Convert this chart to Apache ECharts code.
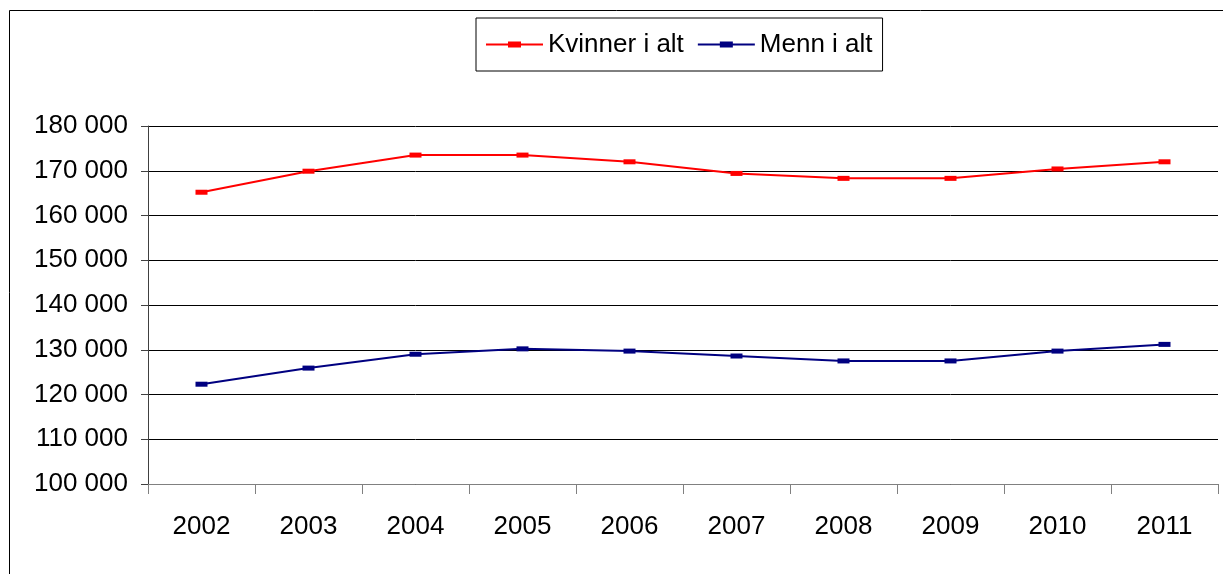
<!DOCTYPE html>
<html>
<head>
<meta charset="UTF-8">
<title>Kvinner og menn i alt</title>
<script type="text/javascript" src="https://cdn.jsdelivr.net/npm/echarts@6/dist/echarts.min.js"></script>
<style>
    *{margin:0;padding:0}
    html,body{width:100%;height:100%;background:#fff}
    #main{width:1223px;height:574px}
</style>
</head>
<body>
<div id="main"></div>
<script type="text/javascript">
    // years and series values
    var years = ['2002','2003','2004','2005','2006','2007','2008','2009','2010','2011'];
    var kvinner = [165200, 169900, 173500, 173500, 172000, 169400, 168300, 168300, 170400, 172000];
    var menn = [122300, 125900, 129000, 130200, 129700, 128600, 127500, 127500, 129700, 131200];

    var font = '"Liberation Sans", Arial, sans-serif';
    // legend icon: line with a small flat rect in the middle
    var legendIcon = 'path://M0,2h57v2h-57z M22,0h13v6h-13z';

    // norsk tusenskille: 180 000
    function fmt(v) {
        return String(v).replace(/\B(?=(\d{3})+(?!\d))/g, ' ');
    }

    var option = {
        animation: false,
        backgroundColor: '#fff',
        graphic: [{
            type: 'rect',
            shape: {x: 9.5, y: 10.5, width: 1400, height: 800},
            style: {fill: 'none', stroke: '#000', lineWidth: 1}
        }],
        legend: {
            left: 476,
            top: 18,
            padding: [13, 10, 13, 10],
            itemGap: 14,
            itemWidth: 57,
            itemHeight: 6,
            borderColor: '#000',
            borderWidth: 1,
            textStyle: {fontFamily: font, fontSize: 26, color: '#000', lineHeight: 27},
            data: [
                {name: 'Kvinner i alt', icon: legendIcon},
                {name: 'Menn i alt', icon: legendIcon}
            ]
        },
        grid: {left: 148, right: 5, top: 126, bottom: 90},
        xAxis: {
            type: 'category',
            data: years,
            boundaryGap: true,
            axisLine: {lineStyle: {color: '#808080', width: 1}},
            axisTick: {show: true, length: 10, lineStyle: {color: '#808080'}},
            axisLabel: {fontFamily: font, fontSize: 26, color: '#000', margin: 30}
        },
        yAxis: {
            type: 'value',
            min: 100000,
            max: 180000,
            interval: 10000,
            axisLine: {show: true, lineStyle: {color: '#404040', width: 1}},
            axisTick: {show: true, length: 7, lineStyle: {color: '#404040'}},
            splitLine: {lineStyle: {color: '#000', width: 1}},
            axisLabel: {fontFamily: font, fontSize: 26, color: '#000', margin: 20, formatter: fmt}
        },
        series: [
            {
                name: 'Kvinner i alt',
                type: 'line',
                data: kvinner,
                color: '#ff0000',
                lineStyle: {width: 2},
                symbol: 'rect',
                symbolSize: [12, 5],
                showAllSymbol: true
            },
            {
                name: 'Menn i alt',
                type: 'line',
                data: menn,
                color: '#000080',
                lineStyle: {width: 2},
                symbol: 'rect',
                symbolSize: [12, 5],
                showAllSymbol: true
            }
        ]
    };

    var myChart = echarts.init(document.getElementById('main'));
    myChart.setOption(option);
</script>
</body>
</html>
